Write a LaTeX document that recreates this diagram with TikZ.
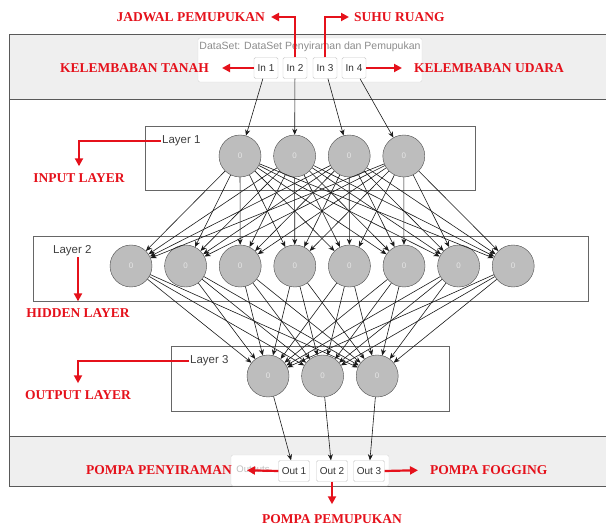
\documentclass[tikz,border=0pt]{standalone}
\usepackage{fontspec}
\setmainfont{Liberation Serif}
\setsansfont{Liberation Sans}
\usetikzlibrary{arrows.meta,calc}
\definecolor{bandgray}{HTML}{EFEFEF}
\definecolor{nodegray}{HTML}{BDBDBD}
\definecolor{labelred}{HTML}{E5111B}
\tikzset{
    neuron/.style={circle,draw=black!70,fill=nodegray,minimum size=42pt,inner sep=0pt,text=white!80!gray,font=\sffamily\footnotesize},
    layerbox/.style={draw=black!60,fill=white,line width=0.8pt},
    iobox/.style={draw=black!22,fill=white,rounded corners=1.5pt,minimum width=24pt,minimum height=21pt,inner sep=1pt,font=\sffamily\fontsize{10}{11}\selectfont,text=black!80},
    layertxt/.style={font=\sffamily\fontsize{11.5}{12}\selectfont,text=black!75,inner sep=1pt},
    redlbl/.style={text=labelred,font=\bfseries\fontsize{13.5}{15}\selectfont,inner sep=1pt},
    redarrow/.style={draw=labelred,line width=2.2pt,-{Triangle[length=8pt,width=8pt]}},
    link/.style={-{Stealth[length=6pt,width=5pt]},black!90,line width=0.6pt}
}
\begin{document}
\begin{tikzpicture}[x=1pt,y=-1pt]
    \useasboundingbox (0,0) rectangle (606,529);
    % rahmen en banden
    \fill[bandgray] (9,35) rectangle (607,100);
    \fill[bandgray] (9,437) rectangle (607,487);
    \draw[black!65,line width=1pt] (607,35) -- (9,35) -- (9,487) -- (607,487)
        (9,100) -- (607,100)
        (9,437) -- (607,437);
    % dataset en outputs
    \draw[black!15,fill=white,rounded corners=2pt] (198,38) rectangle (422,82);
    \node[font=\sffamily\fontsize{10.5}{11}\selectfont,text=black!45] (dataset) at (310,47) {DataSet: DataSet Penyiraman dan Pemupukan};
    \draw[black!15,fill=white,rounded corners=2pt] (231,455) rectangle (389,486);
    \node[font=\sffamily\fontsize{9.5}{10}\selectfont,text=black!25] (outputs) at (253,470) {Outputs};
    \foreach \x [count=\i] in {266,295,325,354}
        \node[iobox] (in\i) at (\x,68) {In \i};
    \foreach \x [count=\i] in {294,332,369}
        \node[iobox,minimum width=31pt] (out\i) at (\x,471) {Out \i};
    % lagen
    \draw[layerbox] (145,126) rectangle (475,190);
    \draw[layerbox] (33,236) rectangle (588,301);
    \draw[layerbox] (171,346) rectangle (449,411);
    \node[layertxt,anchor=west] (lyr1) at (161,141) {Layer 1};
    \node[layertxt,anchor=west] (lyr2) at (52,251) {Layer 2};
    \node[layertxt,anchor=west] (lyr3) at (189,361) {Layer 3};
    \foreach \i in {1,...,4}
        \node[neuron] (a\i) at ({240+54.6*(\i-1)},156) {0};
    \foreach \i in {1,...,8}
        \node[neuron] (b\i) at ({131+54.6*(\i-1)},266) {0};
    \foreach \i in {1,...,3}
        \node[neuron] (c\i) at ({268+54.6*(\i-1)},376) {0};
    % verbindingen
    \foreach \i in {1,...,4}
        \draw[link] (in\i) -- (a\i);
    \foreach \i in {1,...,4}
        \foreach \j in {1,...,8}
            \draw[link] (a\i) -- (b\j);
    \foreach \i in {1,...,8}
        \foreach \j in {1,...,3}
            \draw[link] (b\i) -- (c\j);
    \foreach \i in {1,...,3}
        \draw[link] (c\i) -- (out\i);
    % rode labels
    \node[redlbl,anchor=east] (jadwal) at (266,17) {JADWAL PEMUPUKAN};
    \node[redlbl,anchor=west] (suhu) at (353,17) {SUHU RUANG};
    \node[redlbl,anchor=east] (tanah) at (210,68) {KELEMBABAN TANAH};
    \node[redlbl,anchor=west] (udara) at (413,68) {KELEMBABAN UDARA};
    \node[redlbl] (inputlyr) at (79,178) {INPUT LAYER};
    \node[redlbl] (hiddenlyr) at (78,313) {HIDDEN LAYER};
    \node[redlbl] (outputlyr) at (78,395) {OUTPUT LAYER};
    \node[redlbl,anchor=east] (penyiraman) at (233,470) {POMPA PENYIRAMAN};
    \node[redlbl,anchor=west] (fogging) at (429,470) {POMPA FOGGING};
    \node[redlbl] (pemupukan) at (332,519) {POMPA PEMUPUKAN};
    \draw[redarrow,shorten >=5pt] (in2.north) |- (jadwal.east);
    \draw[redarrow,shorten >=4pt] (in3.north) |- (suhu.west);
    \draw[redarrow,shorten >=12pt] (in1.west) -- (tanah.east);
    \draw[redarrow,shorten >=11pt] (in4.east) -- (udara.west);
    \draw[redarrow,shorten >=6pt] (lyr1.west) -| (inputlyr.north);
    \draw[redarrow,shorten >=6pt] (lyr2.south -| hiddenlyr.north) -- (hiddenlyr.north);
    \draw[redarrow,shorten >=6pt] (lyr3.west) -| (outputlyr.north);
    \draw[redarrow,shorten >=14pt] (out1.west) -- (penyiraman.east);
    \draw[redarrow,shorten >=11pt] (out3.east) -- (fogging.west);
    \draw[redarrow,shorten >=9pt] (out2.south) -- (pemupukan.north);
\end{tikzpicture}
\end{document}
